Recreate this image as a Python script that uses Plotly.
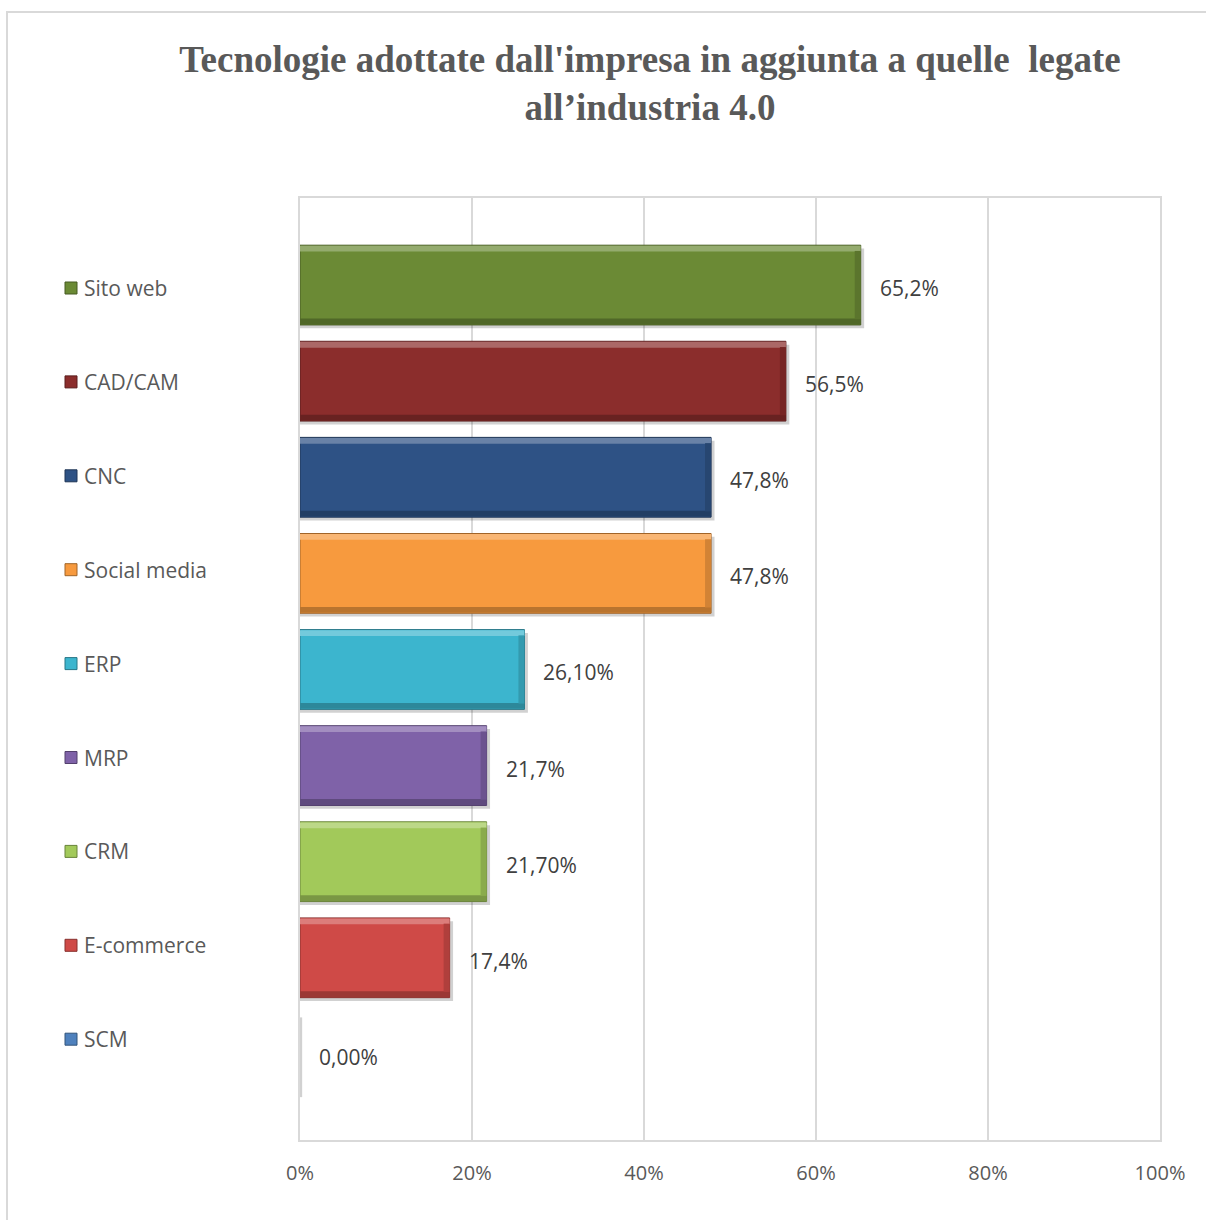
import plotly.graph_objects as go

categories = ["Sito web", "CAD/CAM", "CNC", "Social media", "ERP", "MRP", "CRM", "E-commerce", "SCM"]
values = [65.2, 56.5, 47.8, 47.8, 26.1, 21.7, 21.7, 17.4, 0.0]
value_labels = ["65,2%", "56,5%", "47,8%", "47,8%", "26,10%", "21,7%", "21,70%", "17,4%", "0,00%"]
colors = ["#6b8a35", "#8b2d2c", "#2e5285", "#f79a3e", "#3cb5ce", "#7f62a8", "#a2c95a", "#cf4a47", "#4f81bd"]
tick_vals = [0, 20, 40, 60, 80, 100]
tick_text = ["0%", "20%", "40%", "60%", "80%", "100%"]
title_text = "Tecnologie adottate dall'impresa in aggiunta a quelle  legate<br>all’industria 4.0"

W, H = 1206, 1220
PL, PR, PT, PB = 300, 1160, 198, 1140


def px_x(p):
    return (p - PL) / (PR - PL)


def px_y(p):
    return 1 - (p - PT) / (PB - PT)


def mix(hex_color, other, t):
    h = hex_color.lstrip("#")
    r, g, b = (int(h[i:i + 2], 16) for i in (0, 2, 4))
    o = other.lstrip("#")
    r2, g2, b2 = (int(o[i:i + 2], 16) for i in (0, 2, 4))
    return "#%02x%02x%02x" % (round(r + (r2 - r) * t), round(g + (g2 - g) * t), round(b + (b2 - b) * t))


light = [mix(c, "#ffffff", 0.28) for c in colors]
dark = [mix(c, "#000000", 0.25) for c in colors]
edge = [mix(c, "#000000", 0.35) for c in colors]

BW = 0.83          # bar thickness (category units)
BEV = 0.06         # bevel thickness (category units)
BEVX = 0.7         # bevel thickness along value axis

fig = go.Figure()
# drop shadow
fig.add_trace(go.Bar(
    y=categories, x=[v + 0.4 if v > 0 else 0.25 for v in values], orientation="h",
    marker=dict(color="rgba(0,0,0,0.18)", line=dict(width=0)),
    width=BW, offset=-BW / 2 + 0.035, hoverinfo="skip", showlegend=False,
))
# main bar
fig.add_trace(go.Bar(
    y=categories, x=values, orientation="h", name="",
    marker=dict(color=colors, line=dict(color=edge, width=[1 if v > 0 else 0 for v in values])),
    width=BW, offset=-BW / 2, hoverinfo="skip", showlegend=False,
))
# top highlight bevel
fig.add_trace(go.Bar(
    y=categories, x=values, orientation="h",
    marker=dict(color=light, line=dict(width=0)),
    width=BEV, offset=-BW / 2 + 0.006, hoverinfo="skip", showlegend=False,
))
# bottom shaded bevel
fig.add_trace(go.Bar(
    y=categories, x=values, orientation="h",
    marker=dict(color=dark, line=dict(width=0)),
    width=BEV, offset=BW / 2 - BEV - 0.006, hoverinfo="skip", showlegend=False,
))
# right shaded bevel
fig.add_trace(go.Bar(
    y=categories, x=[min(v, BEVX) for v in values], base=[max(v - BEVX, 0) for v in values],
    orientation="h",
    marker=dict(color=[mix(c, "#000000", 0.15) for c in colors], line=dict(width=0)),
    width=BW - 2 * BEV, offset=-BW / 2 + BEV, hoverinfo="skip", showlegend=False,
))

# data labels
for cat, v, lab in zip(categories, values, value_labels):
    fig.add_annotation(x=v, y=cat, xref="x", yref="y", text=lab, showarrow=False,
                       xanchor="left", yanchor="middle", xshift=17, yshift=-3,
                       font=dict(family="Open Sans", size=21, color="#404040"))

# left-side legend (category keys)
for i, (cat, col, ec) in enumerate(zip(categories, colors, edge)):
    cy = 288 + 93.9 * i
    fig.add_shape(type="rect", xref="paper", yref="paper",
                  x0=px_x(65), x1=px_x(77), y0=px_y(cy + 6), y1=px_y(cy - 6),
                  fillcolor=col, line=dict(color=ec, width=1))
    fig.add_annotation(x=px_x(82), y=px_y(cy), xref="paper", yref="paper", text=cat,
                       showarrow=False, xanchor="left", yanchor="middle",
                       font=dict(family="Open Sans", size=21, color="#595959"))

# outer chart border
fig.add_shape(type="rect", xref="paper", yref="paper",
              x0=px_x(7), x1=px_x(1230), y0=px_y(1240), y1=px_y(12),
              line=dict(color="#d9d9d9", width=2), fillcolor="rgba(0,0,0,0)", layer="below")

fig.update_layout(
    width=W, height=H,
    margin=dict(l=PL, r=W - PR, t=PT, b=H - PB),
    paper_bgcolor="white", plot_bgcolor="white",
    barmode="overlay",
    title=dict(text=title_text, x=650 / W, xanchor="center", y=1 - 72 / H, yanchor="top",
               font=dict(family="Liberation Serif", size=37, color="#595959", weight="bold")),
    xaxis=dict(range=[0, 100], tickvals=tick_vals, ticktext=tick_text,
               showgrid=True, gridcolor="#d9d9d9", gridwidth=1.5,
               showline=True, linecolor="#d9d9d9", linewidth=1.5, mirror=True,
               zeroline=False, ticks="", ticklabelstandoff=14,
               tickfont=dict(family="Open Sans", size=20, color="#595959")),
    yaxis=dict(categoryorder="array", categoryarray=categories,
               range=[8.896, -0.906], showticklabels=False, showgrid=False,
               showline=True, linecolor="#d9d9d9", linewidth=1.5, mirror=True,
               zeroline=False, ticks=""),
)

fig.write_html("out.html")
